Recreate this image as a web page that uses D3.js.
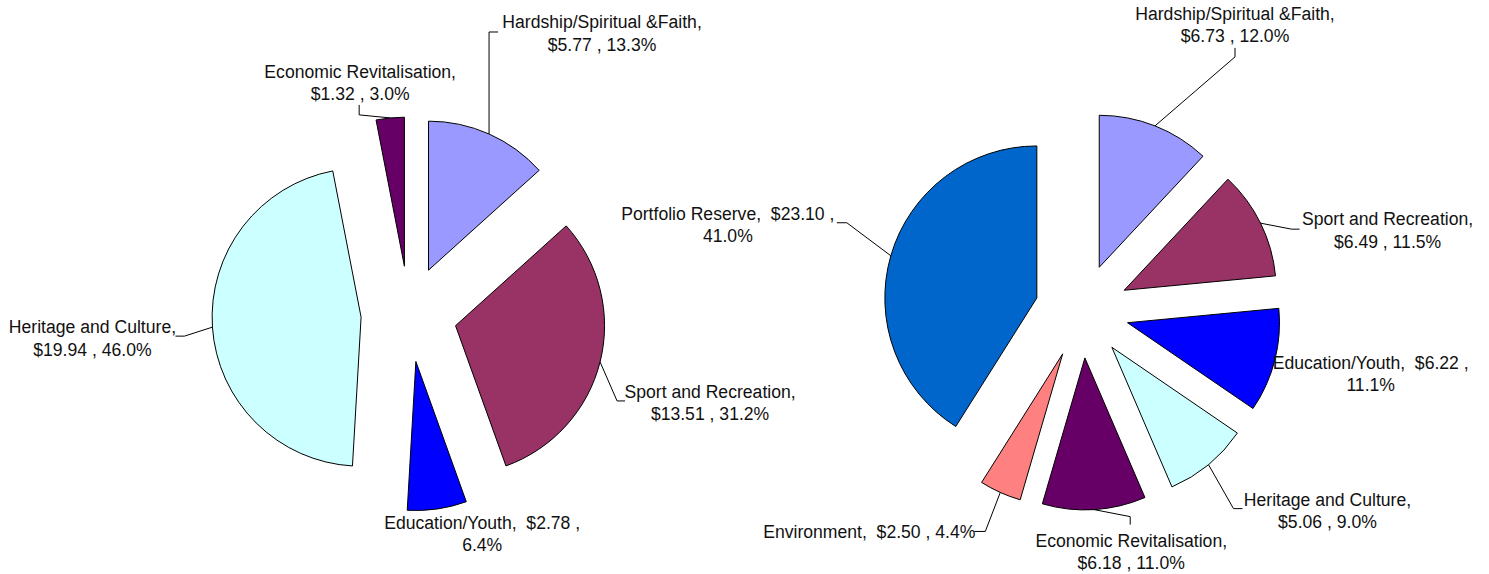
<!DOCTYPE html>
<html>
<head>
<meta charset="utf-8">
<script src="https://cdn.jsdelivr.net/npm/d3@7"></script>
<style>
  html, body { margin: 0; padding: 0; background: #fff; }
  svg text { font-family: "Liberation Sans", Arial, sans-serif; font-size: 17.6px; fill: #111; white-space: pre; }
</style>
</head>
<body>
<svg id="chart" width="1489" height="574"></svg>
<script>
// ---------- DATA ----------
const leftCategories = ["Hardship/Spiritual &Faith", "Sport and Recreation", "Education/Youth", "Heritage and Culture", "Economic Revitalisation"];
const leftValues = [5.77, 13.51, 2.78, 19.94, 1.32];
const leftLabelBreak = ["name", "name", "value", "name", "name"];

const rightCategories = ["Hardship/Spiritual &Faith", "Sport and Recreation", "Education/Youth", "Heritage and Culture", "Economic Revitalisation", "Environment", "Portfolio Reserve"];
const rightValues = [6.73, 6.49, 6.22, 5.06, 6.18, 2.50, 23.10];
const rightLabelBreak = ["name", "name", "value", "name", "name", "none", "value"];

const colorMap = {
  "Hardship/Spiritual &Faith": "#9999FF",
  "Sport and Recreation": "#993366",
  "Education/Youth": "#0000FF",
  "Heritage and Culture": "#CCFFFF",
  "Economic Revitalisation": "#660066",
  "Environment": "#FF8080",
  "Portfolio Reserve": "#0066CC"
};

// ---------- LAYOUT (label offsets relative to the slice's outer-arc midpoint) ----------
const leftLayout = {
  cx: 409, cy: 314, r: 149, explode: 48,
  labels: [
    { dx: 113, dy: -112, leader: [[0, -102], [9, -102]] },
    { dx: 110, dy: 30, leader: [[17, 39], [25, 39]] },
    { dx: 45, dy: 14, leader: null },
    { dx: -120, dy: 0, leader: [[-28, 9], [-37, 9]] },
    { dx: -30, dy: -46, leader: [[-31, -3], [-31, -13]] }
  ]
};
const rightLayout = {
  cx: 1082, cy: 311, r: 152, explode: 47,
  labels: [
    { dx: 80, dy: -112, leader: [[80, -69], [80, -78]] },
    { dx: 127, dy: -4, leader: [[31, 6], [39, 6]] },
    { dx: 96, dy: 2, leader: null },
    { dx: 119, dy: 35, leader: [[25, 44], [34, 44]] },
    { dx: 37, dy: 31, leader: [[36, 7], [36, 15]] },
    { dx: -131, dy: 40, leader: [[-15, 39], [-26, 39]] },
    { dx: -163, dy: -42, leader: [[-44, -33], [-54, -33]] }
  ]
};

const lineGap = 22.5;
const svg = d3.select("#chart");

function labelLines(name, value, pct, mode) {
  const v = "$" + value.toFixed(2);
  const p = pct.toFixed(1) + "%";
  if (mode === "name") return [name + ",", v + " , " + p];
  if (mode === "value") return [name + ",  " + v + " ,", p];
  return [name + ",  " + v + " , " + p];
}

function drawPie(categories, values, breaks, layout) {
  const total = d3.sum(values);
  const pie = d3.pie().sort(null).value(d => d.value).startAngle(0).endAngle(2 * Math.PI);
  const data = pie(categories.map((c, i) => ({ name: c, value: values[i], brk: breaks[i] })));
  const arc = d3.arc().innerRadius(0).outerRadius(layout.r);
  const g = svg.append("g").attr("transform", `translate(${layout.cx},${layout.cy})`);

  data.forEach((d, i) => {
    const mid = (d.startAngle + d.endAngle) / 2;
    const ox = Math.sin(mid) * layout.explode;
    const oy = -Math.cos(mid) * layout.explode;
    g.append("path")
      .attr("d", arc(d))
      .attr("transform", `translate(${ox},${oy})`)
      .attr("fill", colorMap[d.data.name])
      .attr("stroke", "#000")
      .attr("stroke-width", 1);

    const px = ox + Math.sin(mid) * layout.r;
    const py = oy - Math.cos(mid) * layout.r;
    const lab = layout.labels[i];
    if (lab.leader) {
      const pts = [[px, py]].concat(lab.leader.map(p => [px + p[0], py + p[1]]));
      g.append("path")
        .attr("d", d3.line()(pts))
        .attr("fill", "none")
        .attr("stroke", "#000")
        .attr("stroke-width", 1);
    }
    const lines = labelLines(d.data.name, d.data.value, d.data.value / total * 100, d.data.brk);
    const t = g.append("text")
      .attr("text-anchor", "middle")
      .attr("dominant-baseline", "central");
    lines.forEach((ln, k) => {
      t.append("tspan")
        .attr("x", px + lab.dx)
        .attr("y", py + lab.dy + k * lineGap)
        .text(ln);
    });
  });
}

drawPie(leftCategories, leftValues, leftLabelBreak, leftLayout);
drawPie(rightCategories, rightValues, rightLabelBreak, rightLayout);
</script>
</body>
</html>
